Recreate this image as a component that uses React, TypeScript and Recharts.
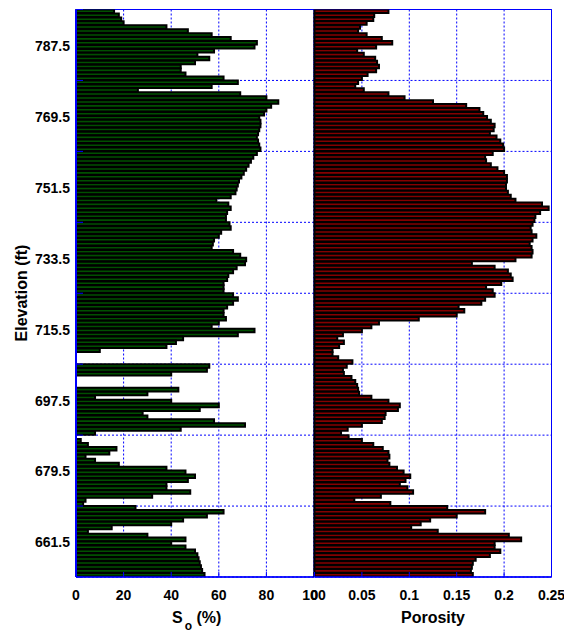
import React from 'react';
import { BarChart, Bar, XAxis, YAxis, CartesianGrid, ReferenceArea } from 'recharts';

// elevation of each sample (ft), top of the log first
const ELEVATION = [
  796, 795, 794, 793, 792, 791, 790, 789, 788, 787,
  786, 785, 784, 783, 782, 781, 780, 779, 778, 777,
  776, 775, 774, 773, 772, 771, 770, 769, 768, 767,
  766, 765, 764, 763, 762, 761, 760, 759, 758, 757,
  756, 755, 754, 753, 752, 751, 750, 749, 748, 747,
  746, 745, 744, 743, 742, 741, 740, 739, 738, 737,
  736, 735, 734, 733, 732, 731, 730, 729, 728, 727,
  726, 725, 724, 723, 722, 721, 720, 719, 718, 717,
  716, 715, 714, 713, 712, 711, 710, 709, 708, 707,
  706, 705, 704, 703, 702, 701, 700, 699, 698, 697,
  696, 695, 694, 693, 692, 691, 690, 689, 688, 687,
  686, 685, 684, 683, 682, 681, 680, 679, 678, 677,
  676, 675, 674, 673, 672, 671, 670, 669, 668, 667,
  666, 665, 664, 663, 662, 661, 660, 659, 658, 657,
  656, 655, 654, 653,
];

// oil saturation So (%)
const SO = [
  16, 18, 19, 20, 38, 47, 57, 65, 76, 75,
  58, 51, 56, 50, 44, 44, 46, 62, 68, 57,
  26, 69, 80, 85, 82, 80, 79, 77, 77.5, 77.5,
  77, 76.5, 76, 76.5, 77, 77.5, 76, 74.5, 73.5, 72.5,
  71.5, 70.5, 69.5, 68.5, 68, 67.5, 67, 65, 59, 64,
  65, 63.5, 63, 63, 64.5, 65, 61, 60, 58, 57.5,
  57, 66, 69, 71.5, 71, 67.5, 66, 64, 63.5, 62,
  62, 62, 66, 68, 66, 63.5, 62, 62, 63, 60,
  57, 75, 68, 45, 42, 38, 10, 0, 0, 0,
  56, 55, 40, 0, 0, 0, 43, 30, 8, 40,
  60, 52, 28, 30, 58, 71, 44, 8, 0, 2,
  5, 17, 14, 4, 8, 18, 38, 46, 50, 47,
  38, 38, 48, 32, 4, 3, 25, 62, 55, 45,
  40, 15, 5, 30, 46, 40, 46, 50, 51, 51.5,
  52, 52.5, 53, 54,
];

// porosity (fraction)
const POROSITY = [
  0.078, 0.063, 0.062, 0.055, 0.048, 0.046, 0.055, 0.071, 0.082, 0.065,
  0.045, 0.052, 0.064, 0.066, 0.068, 0.065, 0.056, 0.050, 0.046, 0.043,
  0.052, 0.078, 0.095, 0.125, 0.160, 0.174, 0.178, 0.182, 0.186, 0.190,
  0.189, 0.185, 0.192, 0.196, 0.199, 0.200, 0.188, 0.180, 0.181, 0.186,
  0.193, 0.200, 0.203, 0.203, 0.202, 0.202, 0.204, 0.207, 0.212, 0.240,
  0.247, 0.238, 0.233, 0.232, 0.230, 0.228, 0.229, 0.234, 0.230, 0.227,
  0.229, 0.230, 0.229, 0.212, 0.166, 0.190, 0.204, 0.207, 0.209, 0.197,
  0.181, 0.188, 0.190, 0.180, 0.176, 0.152, 0.158, 0.150, 0.110, 0.068,
  0.060, 0.050, 0.030, 0.024, 0.031, 0.026, 0.019, 0.019, 0.025, 0.040,
  0.034, 0.030, 0.031, 0.039, 0.043, 0.045, 0.046, 0.047, 0.060, 0.078,
  0.090, 0.088, 0.075, 0.074, 0.071, 0.050, 0.035, 0.028, 0.036, 0.050,
  0.062, 0.072, 0.078, 0.079, 0.077, 0.079, 0.087, 0.094, 0.101, 0.096,
  0.090, 0.098, 0.104, 0.070, 0.042, 0.080, 0.140, 0.180, 0.150, 0.122,
  0.112, 0.102, 0.130, 0.205, 0.218, 0.190, 0.190, 0.196, 0.185, 0.170,
  0.167, 0.166, 0.165, 0.167,
];

const GRID_ELEV = [652.5, 670.5, 688.5, 706.5, 724.5, 742.5, 760.5, 778.5, 796.5];
const LABEL_ELEV = [661.5, 679.5, 697.5, 715.5, 733.5, 751.5, 769.5, 787.5];
const SO_TICKS = [0, 20, 40, 60, 80, 100];
const POR_TICKS = [0, 0.05, 0.1, 0.15, 0.2, 0.25];

const rows = ELEVATION.map((elev, i) => ({ elev, so: SO[i], por: POROSITY[i] }));

const FONT = "'Liberation Sans', Arial, Helvetica, sans-serif";
const BLUE = '#0000ff';
const CHART_H = 631;
const MARGIN_TOP = 9.5;
const MARGIN_BOTTOM = 14;
const X_AXIS_H = 40;
const BAR_H = (CHART_H - MARGIN_TOP - MARGIN_BOTTOM - X_AXIS_H) / ELEVATION.length;
const Y_MARGIN = 6;
const X_MARGIN = 13;

const YTick = (props: any) => {
  const { x, y, payload, showLabel } = props;
  if (LABEL_ELEV.includes(payload.value)) {
    if (!showLabel) return <g />;
    return (
      <text x={x} y={y} dy="0.42em" textAnchor="end" fontFamily={FONT} fontWeight="bold" fontSize={14} fill="#000">
        {payload.value}
      </text>
    );
  }
  return <line x1={x + Y_MARGIN} y1={y} x2={x + Y_MARGIN + 7} y2={y} stroke={BLUE} strokeWidth={1} />;
};

const XTick = (props: any) => {
  const { x, y, payload } = props;
  return (
    <g>
      <line x1={x} y1={y - X_MARGIN} x2={x} y2={y - X_MARGIN - 5} stroke={BLUE} strokeWidth={1} />
      <text x={x} y={y} dy="0.71em" textAnchor="middle" fontFamily={FONT} fontWeight="bold" fontSize={14} fill="#000">
        {payload.value}
      </text>
    </g>
  );
};

const LogPanel = ({ width, margin, dataKey, ticks, max, fill, yWidth, showLabels }: any) => (
  <BarChart
    width={width}
    height={CHART_H}
    data={rows}
    layout="vertical"
    margin={margin}
    style={{ position: 'absolute', left: 0, top: 0 }}
  >
    <CartesianGrid stroke={BLUE} strokeDasharray="2 2" horizontalValues={GRID_ELEV} />
    <XAxis
      type="number"
      domain={[0, max]}
      ticks={ticks}
      height={X_AXIS_H}
      tickSize={0}
      tickMargin={X_MARGIN}
      tickLine={false}
      axisLine={{ stroke: BLUE, strokeWidth: 1.5 }}
      tick={(p: any) => <XTick {...p} />}
      interval={0}
    />
    <YAxis
      type="number"
      dataKey="elev"
      domain={[652.5, 796.5]}
      reversed
      ticks={[...GRID_ELEV, ...LABEL_ELEV].sort((a, b) => a - b)}
      width={yWidth}
      tickSize={0}
      tickMargin={Y_MARGIN}
      tickLine={false}
      axisLine={{ stroke: BLUE, strokeWidth: 2 }}
      tick={(p: any) => <YTick {...p} showLabel={showLabels} />}
      interval={0}
      allowDataOverflow
    />
    <Bar dataKey={dataKey} fill={fill} stroke="#000" strokeWidth={2} barSize={BAR_H} isAnimationActive={false} />
    <ReferenceArea x1={0} x2={max} y1={652.5} y2={796.5} fill="none" fillOpacity={0} stroke={BLUE} strokeWidth={1} />
  </BarChart>
);

export default function App() {
  return (
    <div style={{ position: 'absolute', left: 0, top: 0, width: 564, height: 631, background: '#fff', overflow: 'hidden' }}>
      <LogPanel
        width={330}
        margin={{ top: MARGIN_TOP, right: 16, bottom: MARGIN_BOTTOM, left: 0 }}
        dataKey="so"
        ticks={SO_TICKS}
        max={100}
        fill="#005000"
        yWidth={76}
        showLabels
      />
      <LogPanel
        width={564}
        margin={{ top: MARGIN_TOP, right: 12.5, bottom: MARGIN_BOTTOM, left: 314.5 }}
        dataKey="por"
        ticks={POR_TICKS}
        max={0.25}
        fill="#850000"
        yWidth={0}
        showLabels={false}
      />
      <svg width={564} height={631} style={{ position: 'absolute', left: 0, top: 0, pointerEvents: 'none' }}>
        <text
          transform="translate(27 293) rotate(-90)"
          textAnchor="middle"
          fontFamily={FONT}
          fontWeight="bold"
          fontSize={16}
          fill="#000"
        >
          Elevation (ft)
        </text>
        <text x={172} y={623} fontFamily={FONT} fontWeight="bold" fontSize={16} fill="#000">
          S
          <tspan dx={2} dy={7} fontSize={12}>o</tspan>
          <tspan dy={-7}> (%)</tspan>
        </text>
        <text x={433} y={623} textAnchor="middle" fontFamily={FONT} fontWeight="bold" fontSize={16} fill="#000">
          Porosity
        </text>
      </svg>
    </div>
  );
}
